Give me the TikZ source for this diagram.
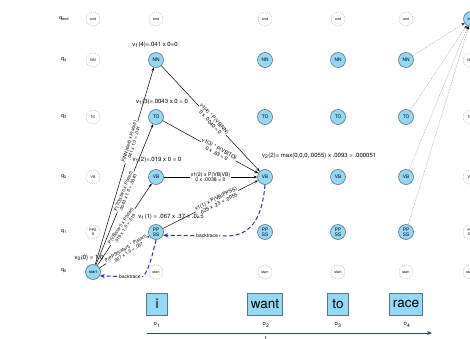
\documentclass[tikz,border=0pt]{standalone}
\usepackage{fontspec}
\setmainfont{TeX Gyre Heros}
\usetikzlibrary{arrows.meta}
\definecolor{nodefill}{RGB}{148,216,247}
\definecolor{nodeborder}{RGB}{95,115,125}
\definecolor{btblue}{RGB}{35,45,200}
\definecolor{axisblue}{RGB}{40,55,170}
\begin{document}
\begin{tikzpicture}[x=1pt,y=-1pt,
  st/.style={circle,draw=nodeborder,fill=nodefill,line width=0.6pt,minimum size=15pt,inner sep=0pt,font=\fontsize{4.8}{5}\selectfont,align=center},
  ghost/.style={circle,draw=gray!65,line width=0.4pt,dash pattern=on 1pt off 1pt,minimum size=14pt,inner sep=0pt,font=\fontsize{3.6}{3.9}\selectfont,align=center},
  ed/.style={-{Stealth[length=3.5pt,width=2.6pt]},line width=0.5pt},
  el/.style={sloped,fill=white,inner sep=0.3pt,font=\fontsize{5.2}{5.6}\selectfont,align=center},
  els/.style={el,font=\fontsize{4.6}{5}\selectfont},
  vl/.style={font=\fontsize{6}{6.5}\selectfont,inner sep=0pt},
  ql/.style={font=\fontsize{5.5}{6}\selectfont,inner sep=0pt},
  bt/.style={draw=btblue,line width=1pt,dash pattern=on 4pt off 2.5pt,-{Stealth[length=5pt,width=4pt]}},
  btl/.style={fill=white,inner sep=1pt,font=\fontsize{5}{5.5}\selectfont,text=black},
  gd/.style={draw=gray!70,line width=0.4pt,dash pattern=on 1.5pt off 1pt,-{Stealth[length=3pt,width=2.4pt,color=black]}},
  wbox/.style={draw=nodeborder,fill=nodefill,line width=0.6pt,font=\fontsize{13.5}{14}\selectfont,minimum height=22pt,minimum width=21pt,inner xsep=3.5pt,inner ysep=0pt},
  ol/.style={font=\fontsize{6}{6.5}\selectfont,inner sep=0pt}
]
\useasboundingbox (0,0) rectangle (470,339);
\clip (0,0) rectangle (470,339);

% row labels
\node[ql] (qend) at (64,19) {q\textsubscript{end}};
\node[ql] (q4) at (64,60) {q\textsubscript{4}};
\node[ql] (q3) at (64,117) {q\textsubscript{3}};
\node[ql] (q2) at (64,177) {q\textsubscript{2}};
\node[ql] (q1) at (64,232) {q\textsubscript{1}};
\node[ql] (q0) at (64,271) {q\textsubscript{0}};

% column 0
\node[ghost] (end0) at (93,19) {end};
\node[ghost] (NN0) at (93,60) {NN};
\node[ghost] (TO0) at (93,117) {TO};
\node[ghost] (VB0) at (93,177) {VB};
\node[ghost] (PP0) at (93,232) {PPS\\S};
\node[st,font=\fontsize{4}{4.4}\selectfont] (start0) at (93,272) {start};

% columns 1-4
\foreach \i/\x in {1/156,2/265,3/338,4/406}{
  \node[ghost] (end\i) at (\x,19) {end};
  \node[st] (NN\i) at (\x,60) {NN};
  \node[st] (TO\i) at (\x,117) {TO};
  \node[st] (VB\i) at (\x,177) {VB};
  \node[st] (PP\i) at (\x,232) {PP\\SS};
  \node[ghost] (start\i) at (\x,272) {start};
}

% column 5
\node[st,font=\fontsize{4}{4.4}\selectfont] (end5) at (471,19) {end};
\node[ghost] (NN5) at (470,60) {NN};
\node[ghost] (TO5) at (470,117) {TO};
\node[ghost] (VB5) at (470,177) {VB};
\node[ghost] (PP5) at (470,232) {PP\\SS};
\node[ghost] (start5) at (470,272) {start};

% viterbi value labels
\node[vl] (v14) at (155,45) {v\textsubscript{1}(4)=.041 x 0=0};
\node[vl] (v13) at (162,102) {v\textsubscript{1}(3)=.0043 x 0 = 0};
\node[vl] (v12) at (157,160) {v\textsubscript{1}(2)=.019 x 0 = 0};
\node[vl] (v11) at (171,217) {v\textsubscript{1}(1) = .067 x .37 = .025};
\node[vl] (v00) at (89,258) {v\textsubscript{0}(0) = 1.0};
\node[vl,anchor=west] (v22) at (262,156) {v\textsubscript{2}(2)= max(0,0,0,.0055) x .0093 = .000051};

% start -> column 1
\draw[ed] (start0) -- node[els,pos=0.62]{P(NN|start) x P(start)\\.041 x 1.0 = .041} (NN1);
\draw[ed] (start0) -- node[els,pos=0.52]{P(TO|start) x P(start)\\.0043 x 1.0 = .0043} (TO1);
\draw[ed] (start0) -- node[els,pos=0.47]{P(VB|start) x P(start)\\.019 x 1.0 = .019} (VB1);
\draw[ed] (start0) -- node[els,pos=0.55]{P(PPSS|start) * P(start)\\.067 x 1.0 = .067} (PP1);

% column 1 -> VB2
\draw[ed] (NN1) -- node[el,pos=0.52]{v1(4) * P(VB|NN)\\0 x .0040 = 0} (VB2);
\draw[ed] (TO1) -- node[el,pos=0.58]{v1(3) * P(VB|TO)\\0 x .83 = 0} (VB2);
\draw[ed] (VB1) -- node[el,pos=0.5]{v1(2) x P(VB|VB)\\0 x .0038 = 0} (VB2);
\draw[ed] (PP1) -- node[el,pos=0.57]{v1(1) x P(VB|PPSS)\\.025 x .23 = .0055} (VB2);

% column 4 -> end5
\draw[gd] (NN4) -- (end5);
\draw[gd] (TO4) -- (end5);
\draw[gd] (VB4) -- (end5);
\draw[gd] (PP4) -- (end5);

% backtrace
\coordinate (bt1) at (226,236);
\draw[bt] (VB2.south) .. controls (262,220) and (250,236) .. (bt1) -- node[btl,pos=0.3]{backtrace} (PP1.-25);
\coordinate (bt2) at (141,277);
\draw[bt] (PP1.south) .. controls (151,262) and (146,277) .. (bt2) -- node[btl,pos=0.27]{backtrace} (start0.-30);

% words
\node[wbox] (w1) at (157,304) {i};
\node[wbox] (w2) at (265,304) {want};
\node[wbox] (w3) at (338,304) {to};
\node[wbox] (w4) at (406,304) {race};
\node[ol] (o1) at (157,325) {o\textsubscript{1}};
\node[ol] (o2) at (266,325) {o\textsubscript{2}};
\node[ol] (o3) at (338,325) {o\textsubscript{3}};
\node[ol] (o4) at (407,325) {o\textsubscript{4}};

% time axis
\coordinate (ax0) at (147,333);
\coordinate (ax1) at (432,333);
\draw[axisblue,line width=1pt,-{Stealth[length=5pt,width=4pt]}] (ax0) -- (ax1);
\node[ol,anchor=north] (tl) at (266,336.5) {t};
\end{tikzpicture}
\end{document}
